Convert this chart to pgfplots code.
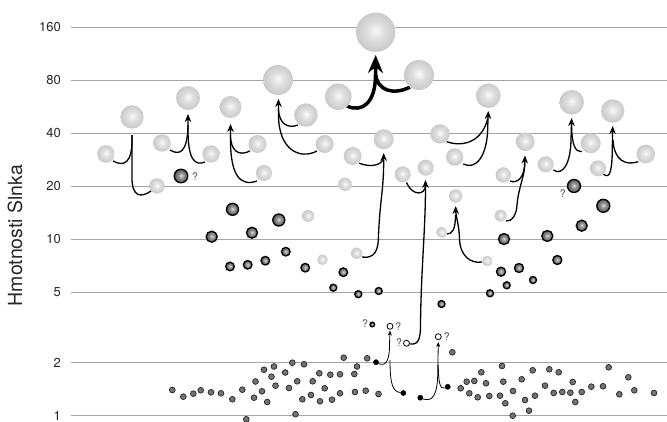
\documentclass[border=0pt]{standalone}
\usepackage{fontspec}
\setmainfont{TeX Gyre Heros}
\usepackage{pgfplots}
\pgfplotsset{compat=1.18}
\usetikzlibrary{arrows.meta}
\pgfdeclareradialshading{lightballshade}{\pgfpoint{0bp}{2bp}}{color(0bp)=(black!2); color(10bp)=(black!12); color(30bp)=(black!24); color(44bp)=(black!33); color(50bp)=(black!40)}
\pgfdeclareradialshading{darkballshade}{\pgfpoint{0bp}{2bp}}{color(0bp)=(black!10); color(8bp)=(black!38); color(24bp)=(black!66); color(42bp)=(black!84); color(50bp)=(black!92)}
\pgfdeclareplotmark{lball}{\pgfpathcircle{\pgfpointorigin}{\pgfplotmarksize}\pgfshadepath{lightballshade}{0}\pgfusepath{}}
\pgfdeclareplotmark{dball}{\pgfpathcircle{\pgfpointorigin}{\pgfplotmarksize}\pgfshadepath{darkballshade}{0}\pgfusepath{stroke}}

\pgfplotstableread{
x y r
106 30.47 8.8
132 49.4 11.7
157 20.07 7.7
162 35.18 8.7
188 63.3 12
211 30.47 8.7
230.5 56.29 11
257.5 34.72 9
264 23.78 8
278 80.07 15
306 50.69 11.7
324.7 34.72 9
338.3 64.39 13.3
375.7 149.3 19.7
419 85.48 15
352.7 29.68 9
383.7 36.92 10
345 20.52 6.7
402.7 23.38 8
425.7 25.48 8
440 39.57 9.7
454.7 29.30 8.7
488.3 65.23 12.3
503.3 23.17 7.7
525.3 35.78 9.3
455.7 17.61 6.7
571.7 59.85 12.3
545.7 26.63 8
590.7 35.04 10
612.7 53.42 11.7
598 25.28 8
645.7 30.47 9.3
308.3 13.56 6
322.5 7.665 5.3
356.7 8.333 5.7
441.7 10.96 5.5
500.7 13.62 6
487.3 7.537 5.3
}\lightballs

\pgfplotstableread{
x y r
181 22.86 6.8
211.7 10.35 5.5
232.5 14.80 6.0
252 10.90 5.5
278.8 12.87 6.0
230 7.015 4.3
247.7 7.172 4.3
265.3 7.566 4.3
285.8 8.51 4.3
305.2 6.905 4.3
343.3 6.511 4.3
333.3 5.318 3.5
358.3 4.886 3.5
378.7 5.094 3.5
441.5 4.299 3.5
574 20.07 6.5
603.3 15.49 6.5
581.7 11.95 5.5
504 10.04 5.5
547.3 10.45 5.5
557.3 7.636 4.5
501 6.554 4.5
519 6.878 4.5
506.7 5.487 3.5
533 5.880 3.5
490 4.943 3.5
372.3 3.289 2.3
}\darkballs

\pgfplotstableread{
x y
172.3 1.3987
183.3 1.2816
193.3 1.3327
200.7 1.3932
211 1.3573
221 1.3397
232.3 1.2388
242.3 1.4042
246.3 0.9541
254 1.2649
255.5 1.5629
262 1.3752
264 1.8210
267.2 1.1959
271.5 1.6640
274 1.9011
275.5 1.4795
285.2 1.7577
289 1.4357
292.3 1.9977
295.5 1.0198
297.2 1.5670
302.3 1.2388
304 1.9564
311 1.3103
312.7 1.5670
319.3 1.7396
320 1.2068
324.7 1.4301
330.3 1.7080
332 1.2323
340 1.7169
340 1.3397
343.7 2.1324
354.3 1.7237
355 1.3626
357 1.9011
365.7 1.3860
367.2 2.1158
378.5 1.3275
452.3 2.2882
460.7 1.4301
466.7 1.5588
469.3 1.3397
474.3 1.5731
477.7 1.2715
481.3 1.7623
486 1.5265
489.3 1.2933
500 1.2984
502 1.9135
503.3 1.5588
505.3 1.1757
513 1.3806
512.7 1.0
521.7 1.6084
525 1.2275
529 1.0675
532.7 1.8090
535 1.2984
545 1.4795
549.3 1.8329
553.7 1.3450
558.7 1.7623
562.3 1.3626
570.3 1.3502
572.7 1.5527
575.3 1.1959
581.7 1.3626
591.3 1.4603
603 1.4679
608.7 1.8813
619.3 1.3223
628.3 1.6510
634.3 1.3932
654 1.3450
}\nsdots

\begin{document}
\begin{tikzpicture}
\useasboundingbox (0,0) rectangle (667pt,422pt);
\begin{axis}[
  at={(71pt,0pt)}, anchor=south west,
  scale only axis, width=596pt, height=422pt,
  xmin=71, xmax=667,
  ymode=log, ymin=0.921, ymax=227.6,
  axis line style={draw=none}, xtick=\empty,
  ytick={1,2,5,10,20,40,80,160}, yticklabels={1,2,5,10,20,40,80,160},
  /pgf/number format/assume math mode=true,
  ymajorgrids, major grid style={draw=black!35, line width=0.8pt},
  major tick length=0pt, minor tick num=0,
  yticklabel style={font=\fontsize{13}{13}\selectfont, text=black!85, inner sep=0pt, xshift=-10pt, anchor=east},
  ylabel={Hmotnosti Slnka},
  ylabel style={at={(axis description cs:-0.094,0.442)}, anchor=center, font=\fontsize{19.5}{20}\selectfont, text=black!85},
  clip=false,
]
% merger arrows
\begin{scope}[line width=1.3pt, black]
% M1
\draw (axis cs:113,27.81) .. controls (axis cs:124,25.71) and (axis cs:132,27.09) .. (axis cs:132,36.58) -- (axis cs:132,39.05);
\draw (axis cs:151,18.80) .. controls (axis cs:141,17.16) and (axis cs:132,17.38) .. (axis cs:132,22.27) -- (axis cs:132,39.05);
% M2
\draw (axis cs:170,32.10) .. controls (axis cs:180,29.68) and (axis cs:187.5,31.28) .. (axis cs:188,44.50);
\draw[-{Stealth[length=8pt,width=6.5pt]}] (axis cs:205,27.45) .. controls (axis cs:195,26.05) and (axis cs:188,28.17) .. (axis cs:188,41.68) -- (axis cs:188,51.36);
% M3
\draw (axis cs:250,31.69) .. controls (axis cs:238,29.30) and (axis cs:230.5,32.10) .. (axis cs:230.5,39.05);
\draw[-{Stealth[length=8pt,width=6.5pt]}] (axis cs:257,21.42) .. controls (axis cs:240,19.80) and (axis cs:230.5,23.16) .. (axis cs:230.5,36.58) -- (axis cs:230.5,45.08);
% M4
\draw (axis cs:298,44.50) .. controls (axis cs:288,42.23) and (axis cs:278.5,45.08) .. (axis cs:278.5,55.55);
\draw[-{Stealth[length=8pt,width=6.5pt]}] (axis cs:317,31.69) .. controls (axis cs:300,28.17) and (axis cs:278.5,32.10) .. (axis cs:278.5,50.69) -- (axis cs:278.5,62.48);
% M6
\draw[-{Stealth[length=8pt,width=6.5pt]}] (axis cs:359.3,26.99) .. controls (axis cs:372,25.38) and (axis cs:383.7,26.39) .. (axis cs:383.7,29.68) -- (axis cs:383.7,30.87);
\draw (axis cs:362,7.941) .. controls (axis cs:375,7.736) and (axis cs:378.5,8.701) .. (axis cs:378.5,10.58) .. controls (axis cs:380,16.71) and (axis cs:383.7,19.04) .. (axis cs:383.7,28.17);
% M7
\draw[-{Stealth[length=8pt,width=6.5pt]}] (axis cs:406.5,21.00) .. controls (axis cs:412,17.61) and (axis cs:425.5,17.61) .. (axis cs:425.5,21.70);
\draw (axis cs:410,2.550) .. controls (axis cs:418,2.517) and (axis cs:420.5,2.687) .. (axis cs:420.5,3.268) .. controls (axis cs:421,6.701) and (axis cs:425.5,11.30) .. (axis cs:425.5,20.07);
% M8
\draw (axis cs:446.7,35.78) .. controls (axis cs:465,32.95) and (axis cs:483,36.58) .. (axis cs:487.8,48.75);
\draw[-{Stealth[length=8pt,width=6.5pt]}] (axis cs:463.3,26.74) .. controls (axis cs:475,24.73) and (axis cs:487.8,28.92) .. (axis cs:487.8,44.50) -- (axis cs:488.3,53.42);
% M9
\draw (axis cs:447,10.72) .. controls (axis cs:452,10.72) and (axis cs:455.5,11.30) .. (axis cs:455.5,13.74);
\draw[-{Stealth[length=8pt,width=6.5pt]}] (axis cs:482,7.439) .. controls (axis cs:470,7.247) and (axis cs:459.5,8.151) .. (axis cs:459.5,10.18) .. controls (axis cs:459,12.06) and (axis cs:455.7,13.74) .. (axis cs:455.7,15.45);
% M10
\draw (axis cs:510,21.42) .. controls (axis cs:517,20.60) and (axis cs:524.7,22.27) .. (axis cs:524.7,27.45);
\draw[-{Stealth[length=8pt,width=6.5pt]}] (axis cs:506,12.70) .. controls (axis cs:512,12.54) and (axis cs:516.7,13.92) .. (axis cs:517,15.66) .. controls (axis cs:518,19.04) and (axis cs:524.7,23.16) .. (axis cs:524.7,26.39) -- (axis cs:525,29.9);
% M11
\draw[-{Stealth[length=8pt,width=6.5pt]}] (axis cs:553.3,24.73) .. controls (axis cs:562,22.86) and (axis cs:570.5,26.39) .. (axis cs:571,36.58) -- (axis cs:571.7,48.75);
\draw (axis cs:581.7,31.40) .. controls (axis cs:575,31.28) and (axis cs:572,34.27) .. (axis cs:571.5,44.50);
% M12
\draw[-{Stealth[length=8pt,width=6.5pt]}] (axis cs:603.3,23.47) .. controls (axis cs:610,21.70) and (axis cs:612,24.73) .. (axis cs:612.3,32.10) -- (axis cs:612.7,43.92);
\draw (axis cs:638.3,27.56) .. controls (axis cs:625,26.05) and (axis cs:614,28.17) .. (axis cs:613,36.58);
\end{scope}
% M5 thick
\begin{scope}[line width=3.5pt, black]
\draw (axis cs:347,57.02) .. controls (axis cs:362,52.04) and (axis cs:375.5,59.30) .. (axis cs:375.5,85.48);
\draw[-{Stealth[length=18pt,width=15pt]}] (axis cs:410,73.08) .. controls (axis cs:395,65.83) and (axis cs:376,68.46) .. (axis cs:375.5,88.88) -- (axis cs:375.7,111.0);
\end{scope}
% small NS mergers
\begin{scope}[line width=0.8pt, black]
\draw[-{Stealth[length=5pt,width=4pt]}] (axis cs:378.5,1.9768) .. controls (axis cs:386,1.8885) and (axis cs:389.5,2.069) .. (axis cs:389.5,2.517) -- (axis cs:390,3.0416);
\draw (axis cs:400.5,1.3538) .. controls (axis cs:393,1.3626) and (axis cs:390,1.4930) .. (axis cs:390,2.069);
\draw[-{Stealth[length=5pt,width=4pt]}] (axis cs:423,1.2436) .. controls (axis cs:433,1.1959) and (axis cs:437.8,1.3103) .. (axis cs:437.8,1.8161) -- (axis cs:438.3,2.617);
\draw (axis cs:445,1.4357) .. controls (axis cs:440,1.3987) and (axis cs:438.3,1.5527) .. (axis cs:438.3,1.938);
\end{scope}

% neutron stars
\addplot[only marks, mark=*, mark size=2.9pt, mark options={fill=black!55, draw=black!85, line width=0.7pt}] table[x=x,y=y] {\nsdots};
% black dots
\addplot[only marks, mark=*, mark size=2.6pt, mark options={fill=black, draw=black}] coordinates {(376,2.0107) (403.3,1.3450) (420.3,1.2649) (447.7,1.4584)};
% open circles
\addplot[only marks, mark=*, mark size=3pt, mark options={fill=white, draw=black, line width=0.8pt}] coordinates {(390,3.213) (406.5,2.5736) (438.3,2.805)};
% light balls
\addplot[scatter, only marks, mark=lball,
  scatter/use mapped color={draw=black, fill=black},
  visualization depends on={\thisrow{r}\as\rr},
  scatter/@pre marker code/.append style={/tikz/mark size=\rr pt}]
  table[x=x,y=y] {\lightballs};
% dark balls
\addplot[scatter, only marks, mark=dball, mark options={line width=1.3pt},
  scatter/use mapped color={draw=black, fill=black},
  visualization depends on={\thisrow{r}\as\rr},
  scatter/@pre marker code/.append style={/tikz/mark size=\rr pt}]
  table[x=x,y=y] {\darkballs};

% question marks
\begin{scope}[font=\fontsize{10.5}{11}\selectfont, text=black!70]
\node at (axis cs:195,22.57) {?};
\node at (axis cs:562.7,18.07) {?};
\node at (axis cs:365,3.311) {?};
\node at (axis cs:398.3,3.205) {?};
\node at (axis cs:399,2.5836) {?};
\node at (axis cs:446.7,2.794) {?};
\end{scope}
\end{axis}
\end{tikzpicture}
\end{document}
